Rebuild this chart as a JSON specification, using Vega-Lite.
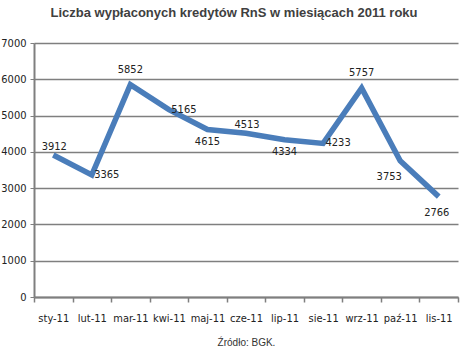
{
  "$schema": "https://vega.github.io/schema/vega-lite/v6.json",
  "autosize": "none",
  "width": 424,
  "height": 254,
  "padding": {"left": 34, "top": 43, "right": 6, "bottom": 58},
  "background": "white",
  "title": {
    "text": "Liczba wypłaconych kredytów RnS w miesiącach 2011 roku",
    "font": "Liberation Sans",
    "fontSize": 13,
    "fontWeight": "bold",
    "color": "#404040",
    "anchor": "middle",
    "frame": "group",
    "offset": 17,
    "dx": -12
  },
  "config": {
    "view": {"stroke": null},
    "axis": {"labelFont": "Liberation Sans Narrow, DejaVu Sans Condensed, sans-serif", "labelFontSize": 11, "labelColor": "#222222"},
    "text": {"fontSize": 11, "font": "Liberation Sans Narrow, DejaVu Sans Condensed, sans-serif", "color": "#222222"}
  },
  "data": {
    "values": [
      {"month": "sty-11", "value": 3912},
      {"month": "lut-11", "value": 3365},
      {"month": "mar-11", "value": 5852},
      {"month": "kwi-11", "value": 5165},
      {"month": "maj-11", "value": 4615},
      {"month": "cze-11", "value": 4513},
      {"month": "lip-11", "value": 4334},
      {"month": "sie-11", "value": 4233},
      {"month": "wrz-11", "value": 5757},
      {"month": "paź-11", "value": 3753},
      {"month": "lis-11", "value": 2766}
    ]
  },
  "encoding": {
    "x": {
      "field": "month",
      "type": "ordinal",
      "sort": null,
      "bandPosition": 0.5,
      "scale": {"type": "band", "paddingInner": 0, "paddingOuter": 0},
      "axis": {
        "title": "Źródło: BGK.",
        "titleFont": "Liberation Sans",
        "titleFontSize": 10,
        "titleFontWeight": "normal",
        "titleColor": "#333333",
        "titlePadding": 14,
        "labelAngle": 0,
        "labelPadding": 10,
        "tickBand": "extent",
        "ticks": true,
        "tickSize": 5,
        "tickColor": "#7f7f7f",
        "tickWidth": 1.5,
        "domainColor": "#7f7f7f",
        "domainWidth": 2,
        "grid": false
      }
    },
    "y": {
      "field": "value",
      "type": "quantitative",
      "scale": {"domain": [0, 7000], "nice": false},
      "axis": {
        "title": null,
        "values": [0, 1000, 2000, 3000, 4000, 5000, 6000, 7000],
        "tickCount": 10,
        "format": "d",
        "labelOverlap": false,
        "grid": true,
        "gridColor": "#7f7f7f",
        "gridWidth": 1.5,
        "domainColor": "#7f7f7f",
        "domainWidth": 2,
        "tickColor": "#7f7f7f",
        "tickSize": 4,
        "labelPadding": 4
      }
    },
    "text": {"field": "value"}
  },
  "layer": [
    {
      "mark": {"type": "line", "color": "#4a7dba", "strokeWidth": 5.5, "strokeJoin": "miter"},
      "encoding": {"text": null}
    },
    {
      "transform": [{"filter": {"field": "month", "oneOf": ["mar-11", "wrz-11"]}}],
      "mark": {"type": "text", "dy": -15}
    },
    {
      "transform": [{"filter": {"field": "month", "oneOf": ["sty-11", "cze-11"]}}],
      "mark": {"type": "text", "dy": -8, "dx": 1}
    },
    {
      "transform": [{"filter": {"field": "month", "oneOf": ["lut-11", "kwi-11", "sie-11"]}}],
      "mark": {"type": "text", "dx": 15, "dy": 0}
    },
    {
      "transform": [{"filter": {"field": "month", "oneOf": ["maj-11", "lip-11"]}}],
      "mark": {"type": "text", "dy": 12}
    },
    {
      "transform": [{"filter": {"field": "month", "oneOf": ["paź-11"]}}],
      "mark": {"type": "text", "dy": 16, "dx": -11}
    },
    {
      "transform": [{"filter": {"field": "month", "oneOf": ["lis-11"]}}],
      "mark": {"type": "text", "dy": 16, "dx": -2}
    }
  ]
}
